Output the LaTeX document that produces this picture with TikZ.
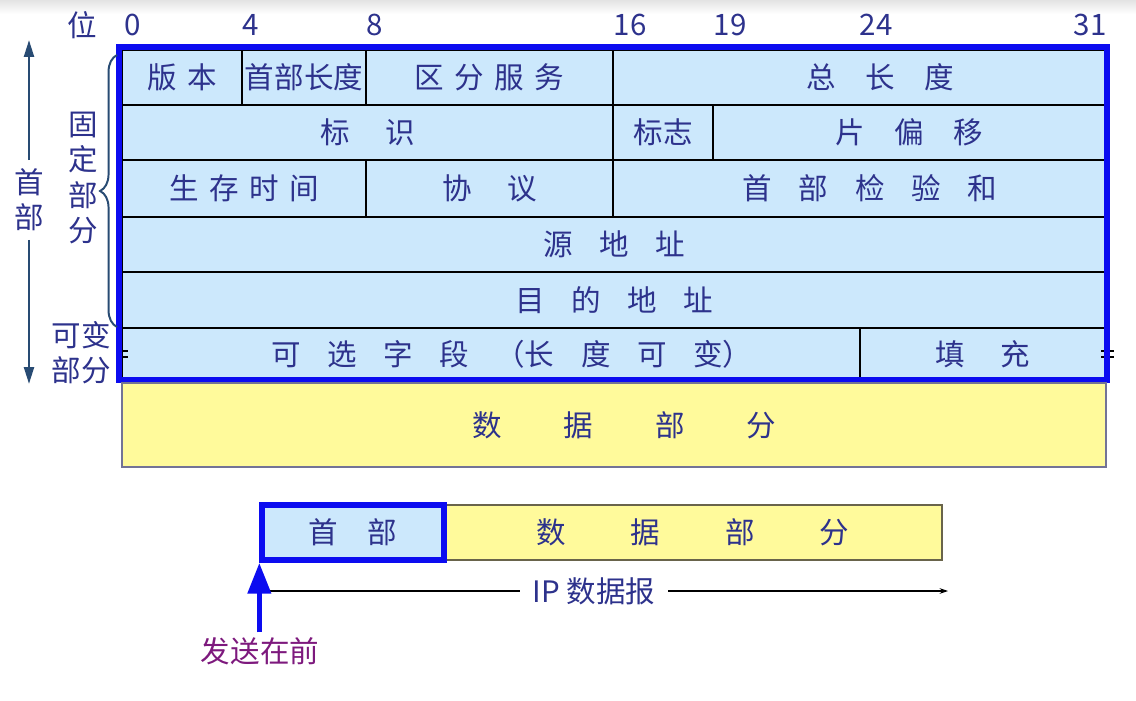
\documentclass[tikz,border=0pt]{standalone}
\usepackage{fontspec}
\setmainfont{Noto Sans CJK SC}
\usetikzlibrary{positioning, fit, arrows.meta, decorations.pathreplacing}
\definecolor{txtblue}{RGB}{45,50,140}
\definecolor{cellblue}{RGB}{204,232,252}
\definecolor{framebl}{RGB}{12,12,240}
\definecolor{datayel}{RGB}{255,250,155}
\definecolor{navyarrow}{RGB}{40,75,115}
\definecolor{sendpurple}{RGB}{125,25,125}
\newcommand{\cellfont}{\fontsize{21}{25}\selectfont}
\newcommand{\gp}[1]{\hspace{#1em}}
\tikzset{
  cellbox/.style={draw=black, line width=1pt, fill=cellblue, inner sep=0pt},
  datbox/.style={draw={rgb,255:red,115;green,115;blue,150}, line width=1pt,
    fill=datayel, inner sep=0pt},
  every label/.style={text=txtblue, font=\cellfont, inner sep=0pt}
}
\tikzset{
  bitlabel/.style={text=txtblue, font=\cellfont},
  sidelabel/.style={text=txtblue, font=\cellfont, align=center}
}
\begin{document}
\begin{tikzpicture}[x=0.025cm, y=-0.025cm, >={Stealth[length=6pt,width=4pt]}]
  \useasboundingbox (0,0) rectangle (1136,701);
  \shade[top color=gray!22, bottom color=white] (0,0) rectangle (1136,14);
  % bit positions
  \node[bitlabel] (pos) at (82,25) {位};
  \foreach \b/\x in {0/133,4/251,8/375,16/630,19/730,24/876,31/1090}
    \node[bitlabel] (b\b) at (\x,25) {\b};
  % fixed part, rows 1-5
  \node[cellbox, fit={(122,50) (242,105)}, label=center:{版\gp{.35}本}] (ver) {};
  \node[cellbox, fit={(242,50) (366,105)}, label=center:{首部长度}] (ihl) {};
  \node[cellbox, fit={(366,50) (613,105)}, label=center:{区\gp{.35}分\gp{.35}服\gp{.35}务}] (dsf) {};
  \node[cellbox, fit={(613,50) (1106,105)}, label=center:{\hspace{1.4em}总\gp{1}长\gp{1}度}] (totlen) {};
  \node[cellbox, fit={(122,105) (613,160)}, label=center:{标\gp{1.2}识}] (ident) {};
  \node[cellbox, fit={(613,105) (713,160)}, label=center:{标志}] (flags) {};
  \node[cellbox, fit={(713,105) (1106,160)}, label=center:{片\gp{1}偏\gp{1}移}] (fragoff) {};
  \node[cellbox, fit={(122,160) (366,217)}, label=center:{生\gp{.35}存\gp{.35}时\gp{.35}间}] (ttl) {};
  \node[cellbox, fit={(366,160) (613,217)}, label=center:{协\gp{1.2}议}] (proto) {};
  \node[cellbox, fit={(613,160) (1106,217)},
    label=center:{\hspace{.7em}首\gp{.9}部\gp{.9}检\gp{.9}验\gp{.9}和}] (chksum) {};
  \node[cellbox, fit={(122,217) (1106,272)}, label=center:{源\gp{.9}地\gp{.9}址}] (srcaddr) {};
  \node[cellbox, fit={(122,272) (1106,328)}, label=center:{目\gp{.9}的\gp{.9}地\gp{.9}址}] (dstaddr) {};
  % variable part
  \node[cellbox, fit={(122,328) (860,380)},
    label=center:{\hspace{1.4em}可\gp{.9}选\gp{.9}字\gp{.9}段\gp{.9}（长\gp{.9}度\gp{.9}可\gp{.9}变）}] (opts) {};
  \node[cellbox, fit={(860,328) (1106,380)}, label=center:{填\gp{1.2}充}] (pad) {};
  \draw[line width=1.3pt] (118,351) -- (128,351) (118,357) -- (128,357);
  \draw[line width=1.3pt] (1101,351) -- (1114,351) (1101,357) -- (1114,357);
  % header frame
  \draw[framebl, line width=4.3pt] (119,47) rectangle (1107,380);
  % data part
  \node[datbox, fit={(122,383) (1106,467)},
    label=center:{\hspace{.7em}数\gp{2.1}据\gp{2.1}部\gp{2.1}分}] (data) {};
  % left side labels
  \node[sidelabel, inner sep=6pt] (hdr) at (29,200) {首\\部};
  \draw[navyarrow, line width=1.8pt, -{Triangle[length=12pt,width=7pt]}] (hdr.north) -- (29,40);
  \draw[navyarrow, line width=1.8pt, -{Triangle[length=12pt,width=7pt]}] (hdr.south) -- (29,384);
  \draw[navyarrow, line width=1.4pt, decorate, decoration={brace, amplitude=12pt}]
    (117,327) -- (117,55);
  \node[sidelabel] (fixed) at (83,178) {固\\定\\部\\分};
  \node[sidelabel] (variable) at (81,353) {可变\\部分};
  % IP datagram below
  \node[datbox, draw={rgb,255:red,105;green,100;blue,75}, fit={(444,505) (942,560)},
    label=center:{数\gp{2.2}据\gp{2.2}部\gp{2.2}分}] (sdata) {};
  \node[cellbox, draw=framebl, line width=3.8pt, fit={(262,505) (444,560)},
    label=center:{首\gp{1}部}] (shdr) {};
  \coordinate (ipstart) at (270,591);
  \coordinate (ipend) at (948,591);
  \node[bitlabel, inner xsep=9pt] (iplabel) at (594,591) {IP 数据报};
  \draw[line width=0.8pt] (ipstart) -- (iplabel.west);
  \draw[line width=0.8pt, ->] (iplabel.east) -- (ipend);
  \node[text=sendpurple, font=\cellfont] (send) at (260,651) {发送在前};
  \draw[framebl, line width=4pt, -{Triangle[length=22pt,width=16pt]}]
    (shdr.south west |- send.north) -- (shdr.south west);
\end{tikzpicture}
\end{document}
